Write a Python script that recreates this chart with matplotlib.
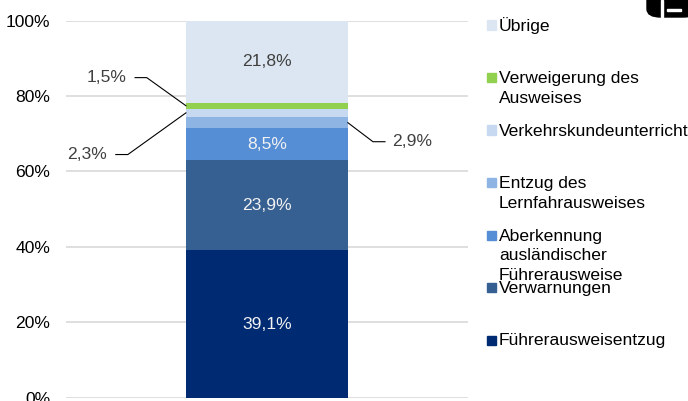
import numpy as np
import matplotlib.pyplot as plt
from matplotlib.patches import Rectangle, FancyBboxPatch

plt.rcParams['font.family'] = ['Liberation Sans', 'DejaVu Sans']

# Kategorien von unten nach oben gestapelt
kategorien = ['Führerausweisentzug', 'Verwarnungen',
              'Aberkennung\nausländischer\nFührerausweise',
              'Entzug des\nLernfahrausweises', 'Verkehrskundeunterricht',
              'Verweigerung des\nAusweises', 'Übrige']
anteile = [39.1, 23.9, 8.5, 2.9, 2.3, 1.5, 21.8]
farben = ['#002A72', '#376092', '#558ED5', '#8EB4E3', '#C6D9F1', '#92D050', '#DCE6F2']
ytick_werte = [0, 20, 40, 60, 80, 100]

fs = 12.6

# Beschriftungen kleiner Segmente mit Fuehrungslinie:
# index: (seite, text_x, text_y, linie_start_x, knick_x)
fuehrung = {5: (-1, -0.40, 84.9, -0.328, -0.299),
            4: (-1, -0.447, 64.5, -0.376, -0.346),
            3: (1, 0.362, 67.9, 0.294, 0.264)}

fig = plt.figure(figsize=(6.88, 4.01), dpi=100)
ax = fig.add_axes([0.0959, 0.0082, 0.584, 0.9402])

breite = 0.403
unten = np.concatenate([[0], np.cumsum(anteile)[:-1]])
for i, (w, b, c) in enumerate(zip(anteile, unten, farben)):
    ax.bar(0, w, bottom=b, width=breite, color=c, zorder=3)
    mitte = b + w / 2
    txt = ('%.1f%%' % w).replace('.', ',')
    if i in fuehrung:
        seite, tx, ty, lx, kx = fuehrung[i]
        ax.plot([lx, kx, seite * breite / 2], [ty, ty, mitte], color='black', lw=0.8,
                zorder=4, clip_on=False)
        ax.text(tx, ty, txt, ha='center', va='center', fontsize=fs, color='#404040')
    else:
        col = '#404040' if i == len(anteile) - 1 else '#F2F2F2'
        ax.text(0, mitte, txt, ha='center', va='center', fontsize=fs, color=col, zorder=5)

ax.set_xlim(-0.5, 0.5)
ax.set_ylim(0, 100)
ax.set_yticks(ytick_werte)
ax.set_yticklabels(['%d%%' % v for v in ytick_werte], fontsize=fs)
ax.set_xticks([])
ax.tick_params(axis='y', length=0, pad=11.5)
ax.grid(axis='y', color='#D9D9D9', lw=1.2, zorder=0)
for s in ax.spines.values():
    s.set_visible(False)

# Legende (oben nach unten in umgekehrter Stapelreihenfolge)
H = 401.0
W = 688.0
for k, i in enumerate(range(len(kategorien) - 1, -1, -1)):
    yc = 25 + k * 52.5
    fig.patches.append(Rectangle((487 / W, 1 - (yc + 4.5) / H), 9 / W, 9 / H,
                                 transform=fig.transFigure, color=farben[i]))
    for j, zeile in enumerate(kategorien[i].split('\n')):
        fig.text(499 / W, 1 - (yc + 1 + j * 20) / H, zeile, ha='left', va='center',
                 fontsize=fs, color='black')

# angeschnittenes Logo oben rechts
fig.patches.append(FancyBboxPatch((647 / W, 1 - 17 / H), 50 / W, 30 / H,
                                  boxstyle='round,pad=0,rounding_size=0.02',
                                  transform=fig.transFigure, color='black'))
fig.patches.append(Rectangle((661 / W, 1 - 17 / H), 2 / W, 17 / H,
                             transform=fig.transFigure, color='white'))
fig.patches.append(Rectangle((667 / W, 1 - 11 / H), 14 / W, 2 / H,
                             transform=fig.transFigure, color='white'))

plt.savefig('out.png', dpi=100)
plt.close()
